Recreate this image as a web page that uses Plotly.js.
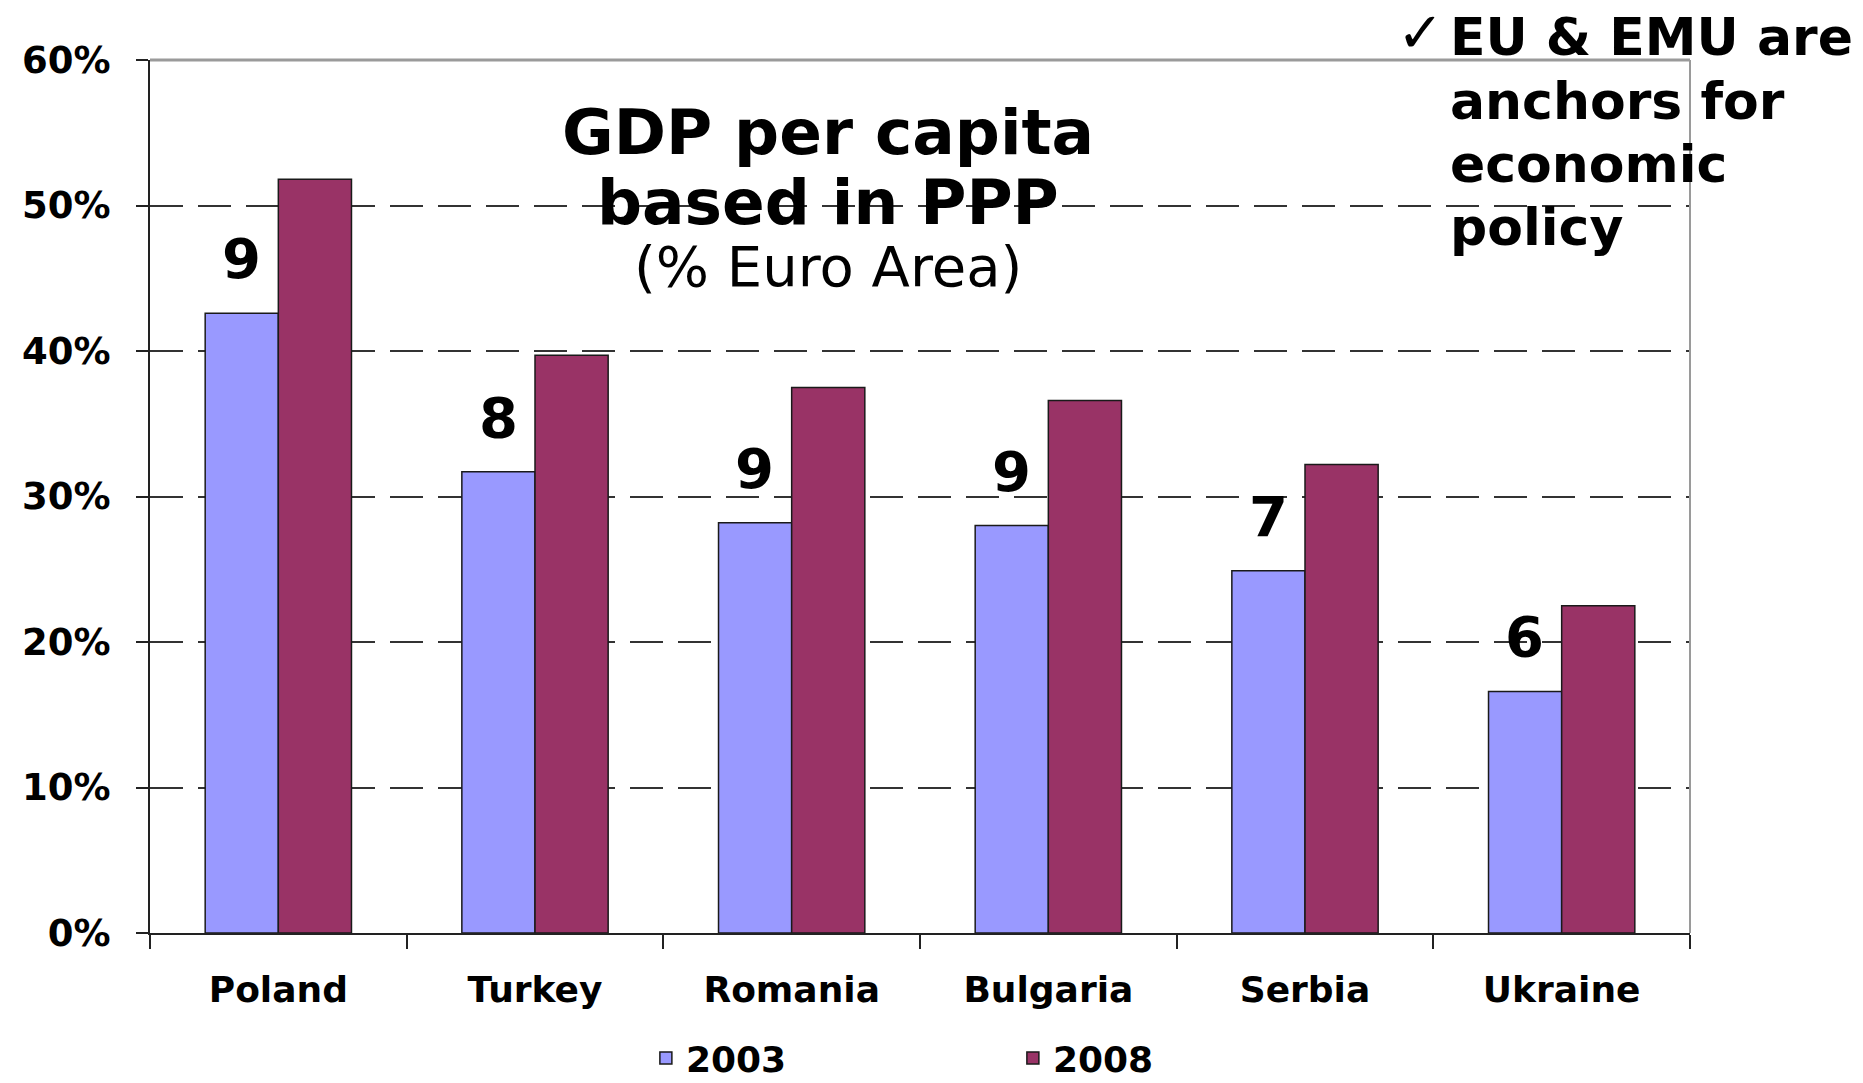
<!DOCTYPE html>
<html>
<head>
<meta charset="utf-8">
<script src="https://cdn.plot.ly/plotly-3.0.1.min.js"></script>
<style>
  html, body { margin: 0; padding: 0; background: #ffffff; }
  #chart { width: 1863px; height: 1083px; }
</style>
</head>
<body>
<div id="chart"></div>
<script>
// ---- data ----
const countries = ['Poland', 'Turkey', 'Romania', 'Bulgaria', 'Serbia', 'Ukraine'];
const gdp2003 = [42.6, 31.7, 28.2, 28.0, 24.9, 16.6];
const gdp2008 = [51.8, 39.7, 37.5, 36.6, 32.2, 22.5];
const barLabels = ['9', '8', '9', '9', '7', '6'];
const seriesNames = ['2003', '2008'];
const titleLines = ['GDP per capita', 'based in PPP'];
const subtitle = '(% Euro Area)';
const noteLines = ['EU & EMU are', 'anchors for', 'economic', 'policy'];

const FONT = 'DejaVu Sans, Verdana, sans-serif';

const traces = [
  {
    type: 'bar', name: seriesNames[0], x: countries, y: gdp2003,
    marker: { color: '#9999FF', line: { color: '#1a1a1a', width: 1.5 } },
    hoverinfo: 'skip'
  },
  {
    type: 'bar', name: seriesNames[1], x: countries, y: gdp2008,
    marker: { color: '#993366', line: { color: '#1a1a1a', width: 1.5 } },
    hoverinfo: 'skip'
  }
];

const annotations = [];
countries.forEach((c, i) => {
  annotations.push({
    x: c, y: gdp2003[i], xref: 'x', yref: 'y',
    text: barLabels[i], showarrow: false,
    xanchor: 'center', yanchor: 'bottom', xshift: -37, yshift: 20,
    font: { family: FONT, size: 56, color: '#000', weight: 'bold' }
  });
});
annotations.push({
  x: 0.4403, y: 0.9164, xref: 'paper', yref: 'paper', showarrow: false,
  xanchor: 'center', yanchor: 'middle', text: titleLines[0],
  font: { family: FONT, size: 63, color: '#000', weight: 'bold' }
});
annotations.push({
  x: 0.4403, y: 0.8362, xref: 'paper', yref: 'paper', showarrow: false,
  xanchor: 'center', yanchor: 'middle', text: titleLines[1],
  font: { family: FONT, size: 63, color: '#000', weight: 'bold' }
});
annotations.push({
  x: 0.4403, y: 0.763, xref: 'paper', yref: 'paper', showarrow: false,
  xanchor: 'center', yanchor: 'middle', text: subtitle,
  font: { family: FONT, size: 56, color: '#000' }
});
annotations.push({
  x: 0.8253, y: 1.031, xref: 'paper', yref: 'paper', showarrow: false,
  xanchor: 'center', yanchor: 'middle', text: '✓',
  font: { family: FONT, size: 56, color: '#000' }
});
const noteY = [1.0263, 0.9530, 0.8809, 0.8087];
noteLines.forEach((t, i) => {
  annotations.push({
    x: 0.843, y: noteY[i], xref: 'paper', yref: 'paper', showarrow: false,
    xanchor: 'left', yanchor: 'middle', align: 'left', text: t,
    font: { family: FONT, size: 52, color: '#000', weight: 'bold' }
  });
});

const layout = {
  width: 1863, height: 1083,
  paper_bgcolor: '#ffffff', plot_bgcolor: '#ffffff',
  margin: { l: 150, r: 173, t: 60, b: 150, pad: 0, autoexpand: false },
  barmode: 'group', bargap: 0.43, bargroupgap: 0,
  showlegend: true,
  legend: {
    orientation: 'h', x: 0.322, y: -0.1432, xanchor: 'left', yanchor: 'middle',
    font: { family: FONT, size: 36, color: '#000', weight: 'bold' },
    entrywidth: 322, entrywidthmode: 'pixels',
    bgcolor: 'rgba(0,0,0,0)'
  },
  xaxis: {
    type: 'category', automargin: false,
    showline: true, linecolor: '#222', linewidth: 2,
    ticks: 'outside', tickson: 'boundaries', ticklen: 14, tickcolor: '#222', tickwidth: 2,
    showgrid: false, zeroline: false,
    tickfont: { family: FONT, size: 36, color: '#000', weight: 'bold' },
    ticklabelstandoff: 24
  },
  yaxis: {
    range: [0, 60], dtick: 10, tick0: 0, ticksuffix: '%', automargin: false,
    showline: true, linecolor: '#222', linewidth: 2,
    ticks: 'outside', ticklen: 12, tickcolor: '#222', tickwidth: 2,
    showgrid: true, gridcolor: '#333', gridwidth: 2, griddash: '33px,15px',
    zeroline: false,
    tickfont: { family: FONT, size: 37, color: '#000', weight: 'bold' },
    ticklabelstandoff: 18
  },
  shapes: [
    { type: 'line', xref: 'paper', yref: 'paper', x0: 0, x1: 1, y0: 1, y1: 1,
      line: { color: '#9a9a9a', width: 3 }, layer: 'above' },
    { type: 'line', xref: 'paper', yref: 'paper', x0: 1, x1: 1, y0: 0, y1: 1,
      line: { color: '#9a9a9a', width: 2 }, layer: 'above' }
  ],
  annotations: annotations
};

Plotly.newPlot('chart', traces, layout, { staticPlot: true, displayModeBar: false });
</script>
</body>
</html>
